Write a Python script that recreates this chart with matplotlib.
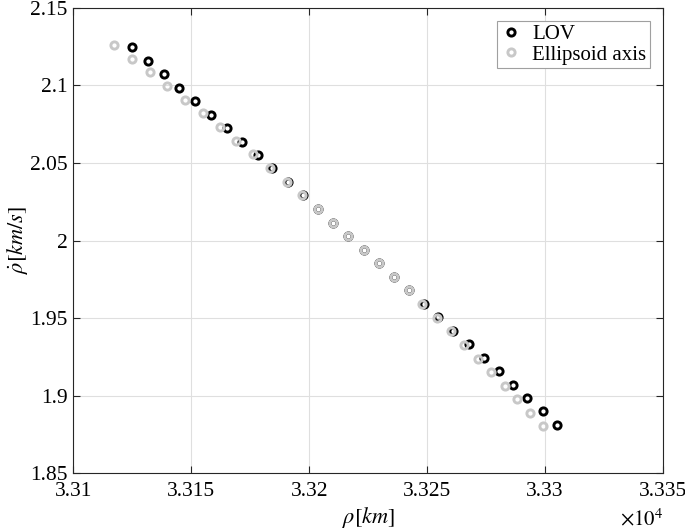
import matplotlib
matplotlib.use("Agg")
import matplotlib.pyplot as plt
from matplotlib.ticker import FixedLocator, FixedFormatter

plt.rcParams['font.family'] = ['Liberation Serif', 'DejaVu Serif']
plt.rcParams['mathtext.fontset'] = 'stix'

lov_rho = [33124.7, 33131.5, 33138.3, 33144.8, 33151.4, 33158.2, 33165.0, 33171.6, 33178.3,
           33184.2, 33191.0, 33197.5, 33203.8, 33210.2, 33216.5, 33223.1, 33229.7, 33236.0,
           33242.4, 33248.6, 33254.7, 33261.0, 33267.8, 33274.0, 33280.3, 33286.4, 33292.5,
           33298.9, 33305.0]
lov_rhodot = [2.1247, 2.1157, 2.1073, 2.0985, 2.0899, 2.0811, 2.0725, 2.0637, 2.0551,
              2.0465, 2.0377, 2.0291, 2.0203, 2.0115, 2.0029, 1.9941, 1.9855, 1.9767,
              1.9681, 1.9593, 1.9507, 1.9419, 1.9333, 1.9243, 1.9159, 1.9071, 1.8985,
              1.8899, 1.8814]
ell_rho = [33117.1, 33124.7, 33132.4, 33139.8, 33147.3, 33154.8, 33162.0, 33168.9, 33176.1,
           33183.5, 33190.4, 33197.1, 33203.8, 33210.2, 33216.5, 33223.1, 33229.7, 33235.9,
           33242.2, 33248.0, 33254.2, 33259.9, 33265.8, 33271.6, 33277.1, 33282.8, 33288.1,
           33293.5, 33298.9]
ell_rhodot = [2.1260, 2.1169, 2.1084, 2.0995, 2.0908, 2.0820, 2.0731, 2.0644, 2.0555,
              2.0467, 2.0380, 2.0291, 2.0203, 2.0115, 2.0029, 1.9941, 1.9855, 1.9767,
              1.9681, 1.9593, 1.9503, 1.9417, 1.9327, 1.9239, 1.9151, 1.9062, 1.8977,
              1.8889, 1.8805]

x_ticks = [33100, 33150, 33200, 33250, 33300, 33350]
x_ticklabels = ['3.31', '3.315', '3.32', '3.325', '3.33', '3.335']
y_ticks = [1.85, 1.9, 1.95, 2.0, 2.05, 2.1, 2.15]
y_ticklabels = ['1.85', '1.9', '1.95', '2', '2.05', '2.1', '2.15']

fig = plt.figure(figsize=(6.85, 5.32), dpi=100)
ax = fig.add_axes([0.107, 0.1103, 0.861, 0.875])

ax.plot(lov_rho, lov_rhodot, 'o', ls='none', mfc='none', mec='black', ms=5.2, mew=2.1,
        label='LOV', zorder=2)
ax.plot(ell_rho, ell_rhodot, 'o', ls='none', mfc='none', mec='#c8c8c8', ms=5.2, mew=2.1,
        label='Ellipsoid axis', zorder=3)

ax.set_xlim(33100, 33350)
ax.set_ylim(1.85, 2.15)
ax.xaxis.set_major_locator(FixedLocator(x_ticks))
ax.xaxis.set_major_formatter(FixedFormatter(x_ticklabels))
ax.set_yticks(y_ticks)
ax.set_yticklabels(y_ticklabels)

ax.grid(True, color='#dfdfdf', lw=0.8)
ax.set_axisbelow(True)
ax.tick_params(direction='in', top=True, right=True, labelsize=15.5, length=5,
               colors='#262626', labelcolor='black')
ax.tick_params(axis='x', pad=6)
ax.tick_params(axis='y', pad=4)
for s in ax.spines.values():
    s.set_color('#262626')
    s.set_linewidth(0.8)

ax.text(1.0, -0.075, r'$\times10^{4}$', transform=ax.transAxes, fontsize=15,
        ha='right', va='top')

ax.set_xlabel(r'$\rho[km]$', fontsize=16, labelpad=3)
ax.set_ylabel(r'$\dot{\rho}[km/s]$', fontsize=16, labelpad=0)

leg = ax.legend(loc='upper right', fontsize=15, frameon=True, fancybox=False,
                edgecolor='#a0a0a0', framealpha=1, borderaxespad=0.65, handletextpad=0.45,
                handlelength=1.1, borderpad=0.15, labelspacing=0.05)
leg.get_frame().set_linewidth(0.8)

fig.savefig('out.png', dpi=100)
